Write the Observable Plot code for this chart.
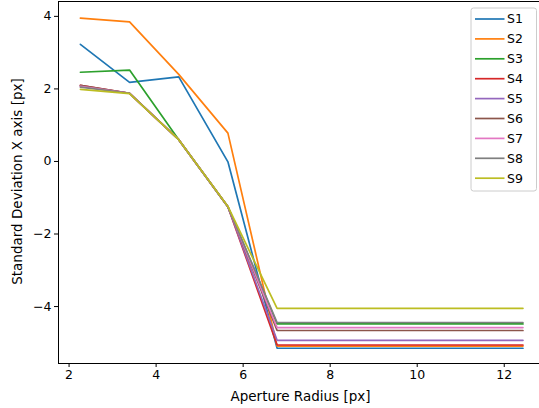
<!DOCTYPE html>
<html><head><meta charset="utf-8">
<script src="https://cdn.jsdelivr.net/npm/d3@7"></script>
<script src="https://cdn.jsdelivr.net/npm/@observablehq/plot@0.6"></script>
<style>
body{margin:0;background:#fff;overflow:hidden;}
#chart{position:relative;width:539px;height:408px;overflow:hidden;}
</style></head>
<body><div id="chart"></div>
<script>
const radii = [2.26, 3.39, 4.52, 5.65, 6.78, 7.91, 9.04, 10.17, 11.30, 12.43];
const seriesNames = ["S1","S2","S3","S4","S5","S6","S7","S8","S9"];
const S1 = [3.23, 2.18, 2.33, -0.01, -5.15, -5.15, -5.15, -5.15, -5.15, -5.15];
const S2 = [3.95, 3.85, 2.40, 0.78, -5.09, -5.09, -5.09, -5.09, -5.09, -5.09];
const S3 = [2.46, 2.52, 0.60, -1.25, -4.48, -4.48, -4.48, -4.48, -4.48, -4.48];
const S4 = [2.10, 1.88, 0.60, -1.25, -5.06, -5.06, -5.06, -5.06, -5.06, -5.06];
const S5 = [2.08, 1.88, 0.60, -1.25, -4.93, -4.93, -4.93, -4.93, -4.93, -4.93];
const S6 = [2.10, 1.88, 0.60, -1.25, -4.66, -4.66, -4.66, -4.66, -4.66, -4.66];
const S7 = [2.07, 1.88, 0.60, -1.25, -4.58, -4.58, -4.58, -4.58, -4.58, -4.58];
const S8 = [2.05, 1.88, 0.60, -1.25, -4.44, -4.44, -4.44, -4.44, -4.44, -4.44];
const S9 = [1.99, 1.87, 0.60, -1.24, -4.05, -4.05, -4.05, -4.05, -4.05, -4.05];
const seriesValues = [S1,S2,S3,S4,S5,S6,S7,S8,S9];
const colors = ["#1f77b4","#ff7f0e","#2ca02c","#d62728","#9467bd","#8c564b","#e377c2","#7f7f7f","#bcbd22"];
const xTicks = [2,4,6,8,10,12];
const yTicks = [-4,-2,0,2,4];
const xLabel = "Aperture Radius [px]";
const yLabel = "Standard Deviation X axis [px]";

const rows = [];
seriesNames.forEach((s,i)=>radii.forEach((r,j)=>rows.push({series:s, r, v:seriesValues[i][j]})));

const font = "DejaVu Sans, sans-serif";
const plot = Plot.plot({
  width: 539, height: 408,
  marginLeft: 58, marginRight: -2, marginTop: 1, marginBottom: 45,
  style: {fontFamily: font, fontSize: "12.5px", color: "#000", background: "#fff", overflow: "hidden"},
  x: {domain: [1.757, 12.856], ticks: xTicks},
  y: {domain: [-5.57, 4.41], ticks: yTicks},
  color: {domain: seriesNames, range: colors},
  marks: [
    Plot.line(rows, {x:"r", y:"v", stroke:"series", z:"series", strokeWidth:1.7, strokeLinejoin:"miter"}),
    Plot.frame({stroke:"#000", strokeWidth:1}),
    Plot.axisX({ticks: xTicks, tickSize:4, tickPadding:3, fontSize:12.5, label:null, tickFormat: d=>String(d)}),
    Plot.axisY({ticks: yTicks, tickSize:4, tickPadding:3, fontSize:12.5, label:null, tickFormat: d=> d<0 ? "\u2212"+Math.abs(d) : String(d)})
  ]
});
document.getElementById("chart").appendChild(plot);

const svg = d3.select(plot);
svg.append("text").attr("x", 300.5).attr("y", 401).attr("text-anchor","middle")
  .style("font-family", font).style("font-size","13.5px").text(xLabel);
svg.append("text").attr("transform","translate(21.5,181.5) rotate(-90)").attr("text-anchor","middle")
  .style("font-family", font).style("font-size","13.5px").text(yLabel);

// legend
const lg = svg.append("g");
lg.append("rect").attr("x",471).attr("y",8).attr("width",65.5).attr("height",183).attr("rx",2.5)
  .attr("fill","#fff").attr("fill-opacity",0.8).attr("stroke","#ccc").attr("stroke-width",1);
seriesNames.forEach((s,i)=>{
  const y = 19 + i*19.9;
  lg.append("line").attr("x1",475).attr("x2",504.5).attr("y1",y).attr("y2",y)
    .attr("stroke",colors[i]).attr("stroke-width",1.7);
  lg.append("text").attr("x",515).attr("y",y).attr("dy","0.35em")
    .style("font-family",font).style("font-size","12.5px").text(s);
});
</script></body></html>
